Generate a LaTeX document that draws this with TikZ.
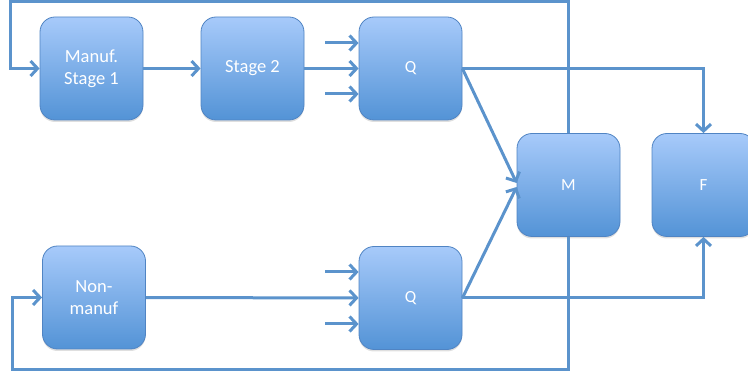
\documentclass[tikz,border=0pt]{standalone}
\usepackage{fontspec}
\setmainfont{Carlito}
\usetikzlibrary{arrows.meta,shadows}
\definecolor{linkblue}{RGB}{91,147,204}
\definecolor{edgeblue}{RGB}{80,132,195}
\definecolor{toplight}{RGB}{167,202,250}
\definecolor{botdark}{RGB}{83,147,214}
\tikzset{
  stagebox/.style={draw=edgeblue, line width=0.8pt, rounded corners=15pt,
    minimum width=103pt, minimum height=103pt, inner sep=0pt,
    top color=toplight, bottom color=botdark, text=white, align=center,
    font=\fontsize{18.5}{22}\selectfont,
    drop shadow={shadow xshift=0pt, shadow yshift=-2pt, opacity=0.25}},
  smallbox/.style={stagebox, font=\fontsize{17}{20}\selectfont},
  flow/.style={draw=linkblue, line width=3pt, -{Straight Barb[length=7pt,width=15pt,line width=3pt]}},
  plain/.style={draw=linkblue, line width=3pt}
}
\begin{document}
\begin{tikzpicture}[x=1pt,y=-1pt]
    \useasboundingbox (0,0) rectangle (748,374);

    % Boxes
    \node[stagebox] (manuf) at (91.5,68.5) {Manuf.\\Stage 1};
    \node[stagebox] (stage) at (252.5,68.5) {Stage 2};
    \node[smallbox] (qtop) at (410.5,68.5) {Q};
    \node[stagebox] (nonmanuf) at (94,297.5) {Non-\\manuf};
    \node[smallbox] (qbot) at (410.5,298) {Q};
    \node[smallbox] (merge) at (568.5,185) {M};
    \node[smallbox] (final) at (703.5,185) {F};

    % Short inputs into the queues
    \coordinate (qta) at (325,43);
    \coordinate (qtb) at (325,94);
    \coordinate (qba) at (325,272);
    \coordinate (qbb) at (325,324);
    \draw[flow] (qta) -- (qtop.west |- qta);
    \draw[flow] (qtb) -- (qtop.west |- qtb);
    \draw[flow] (qba) -- (qbot.west |- qba);
    \draw[flow] (qbb) -- (qbot.west |- qbb);

    % Main flow
    \draw[flow] (manuf) -- (stage);
    \draw[flow] (stage) -- (qtop);
    \draw[flow] (nonmanuf) -- (qbot);
    \draw[flow] (qtop.east) -- ([yshift=2pt]merge.west);
    \draw[flow] (qbot.east) -- ([yshift=-2pt]merge.west);
    \draw[flow] (qtop.east) -| (final.north);
    \draw[flow] (qbot.east) -| (final.south);

    % Feedback loops
    \draw[flow] (merge.north) |- (10,2) |- (manuf.west);
    \draw[flow] (merge.south) |- (12,370) |- (nonmanuf.west);
\end{tikzpicture}
\end{document}
